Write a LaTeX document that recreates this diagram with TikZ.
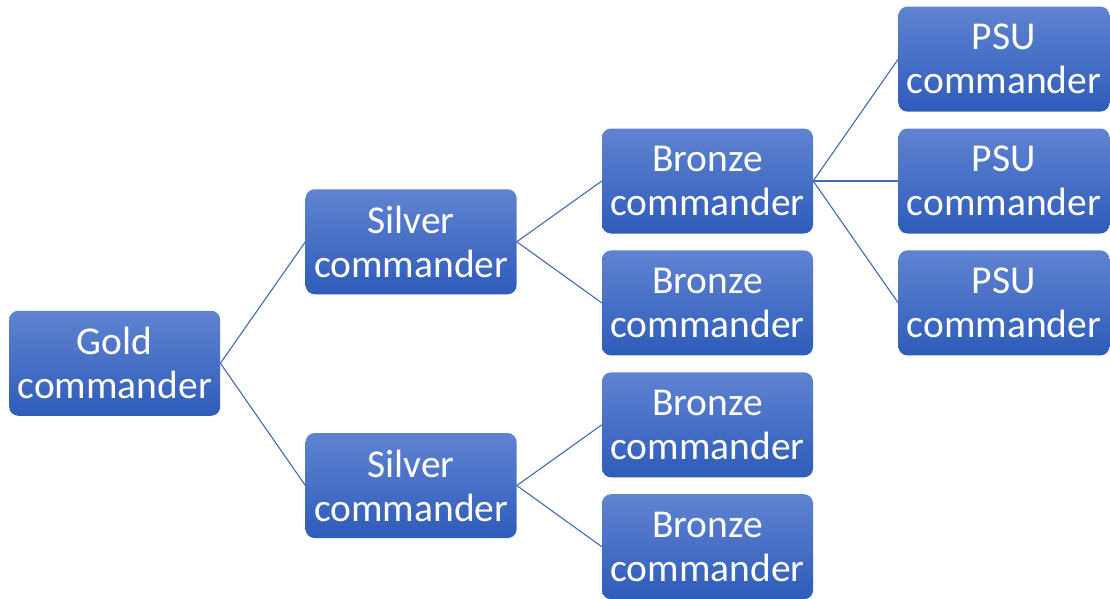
\documentclass[tikz,border=0pt]{standalone}
\usepackage{fontspec}
\setmainfont{Carlito}
\usetikzlibrary{positioning}

\definecolor{boxtop}{RGB}{96,131,209}
\definecolor{boxbot}{RGB}{46,92,186}
\definecolor{linkblue}{RGB}{68,104,184}

\begin{document}
\begin{tikzpicture}[
  node distance=16.5pt and 85pt,
  cmd/.style={rounded corners=9pt, top color=boxtop, bottom color=boxbot, draw=none,
    minimum width=211pt, minimum height=105pt, inner sep=0pt, align=center,
    text=white, font=\fontsize{39.5}{44}\selectfont},
  link/.style={draw=linkblue, line width=1.1pt}
]
  \useasboundingbox (0,0) rectangle (1110pt,-598pt);

  % bronze column
  \node[cmd] (b1) at (707.5pt,-181pt) {Bronze\\commander};
  \node[cmd, below=of b1] (b2) {Bronze\\commander};
  \node[cmd, below=of b2] (b3) {Bronze\\commander};
  \node[cmd, below=of b3] (b4) {Bronze\\commander};

  % PSU column
  \node[cmd, right=of b1] (p2) {PSU\\commander};
  \node[cmd, above=of p2] (p1) {PSU\\commander};
  \node[cmd, below=of p2] (p3) {PSU\\commander};

  % silver and gold
  \node[cmd, left=of b1, yshift=-60.75pt] (s1) {Silver\\commander};
  \node[cmd, left=of b3, yshift=-60.75pt] (s2) {Silver\\commander};
  \node[cmd, left=of s1, yshift=-121.5pt] (gold) {Gold\\commander};

  \draw[link] (gold.east) -- (s1.west);
  \draw[link] (gold.east) -- (s2.west);
  \draw[link] (s1.east) -- (b1.west);
  \draw[link] (s1.east) -- (b2.west);
  \draw[link] (s2.east) -- (b3.west);
  \draw[link] (s2.east) -- (b4.west);
  \foreach \p in {p1,p2,p3}
    \draw[link] (b1.east) -- (\p.west);
\end{tikzpicture}
\end{document}
